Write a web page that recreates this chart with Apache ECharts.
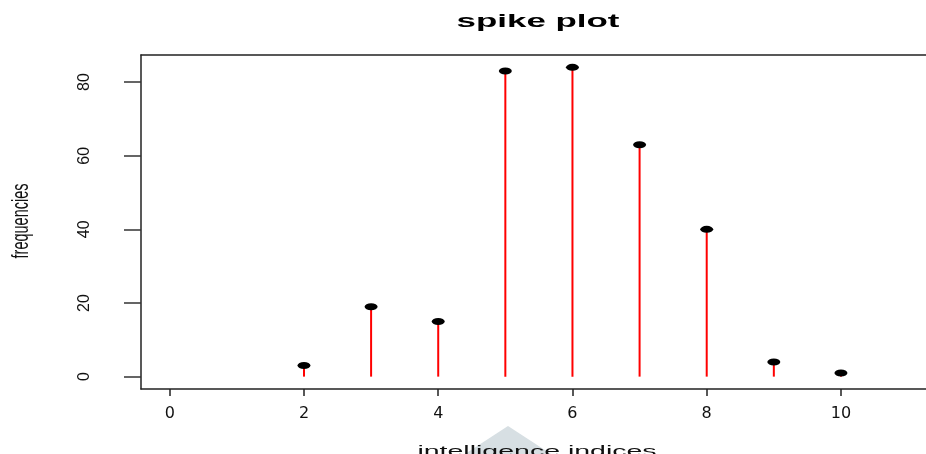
<!DOCTYPE html>
<html>
<head>
<meta charset="utf-8">
<script src="https://cdn.jsdelivr.net/npm/echarts@6/dist/echarts.min.js"></script>
<style>
html,body{margin:0;padding:0;background:#fff;overflow:hidden;}
#chart{width:926px;height:454px;}
</style>
</head>
<body>
<div id="chart"></div>
<script>
// ---- data ----
const indices = [2, 3, 4, 5, 6, 7, 8, 9, 10];
const frequencies = [3, 19, 15, 83, 84, 63, 40, 4, 1];
const xTickValues = [0, 2, 4, 6, 8, 10];
const yTickValues = [0, 20, 40, 60, 80];
const titleText = 'spike plot';
const xTitle = 'intelligence indices';
const yTitle = 'frequencies';

const pairs = indices.map((x, i) => [x, frequencies[i]]);

const chart = echarts.init(document.getElementById('chart'), null, {renderer: 'canvas'});
chart.setOption({
  animation: false,
  backgroundColor: '#ffffff',
  grid: {left: 141, right: 0, top: 55, bottom: 65, show: false},
  xAxis: [
    {
      type: 'value', min: -0.428, max: 11.267, position: 'bottom',
      splitLine: {show: false},
      axisLine: {show: true, onZero: false, lineStyle: {color: '#222', width: 1.5}},
      axisTick: {show: true, customValues: xTickValues, length: 7, inside: false,
        lineStyle: {color: '#222', width: 1.5}},
      axisLabel: {show: true, customValues: xTickValues, margin: 17,
        fontFamily: 'DejaVu Sans', fontSize: 16, color: '#111'}
    },
    {
      type: 'value', min: -0.428, max: 11.267, position: 'top',
      splitLine: {show: false},
      axisLine: {show: true, onZero: false, lineStyle: {color: '#222', width: 1.5}},
      axisTick: {show: false},
      axisLabel: {show: false}
    }
  ],
  yAxis: {
    type: 'value', min: -3.36, max: 87.36, position: 'left',
    splitLine: {show: false},
    axisLine: {show: true, onZero: false, lineStyle: {color: '#222', width: 1.5}},
    axisTick: {show: true, customValues: yTickValues, length: 17, inside: false,
      lineStyle: {color: '#333', width: 1.5}},
    axisLabel: {show: true, customValues: yTickValues, rotate: 90, margin: 48,
      fontFamily: 'Liberation Sans', fontSize: 16, color: '#111'}
  },
  graphic: [
    {type: 'polygon', z: 1, silent: true,
      shape: {points: [[465, 454], [508, 426], [551, 454]]},
      style: {fill: '#d7dfe3'}},
    {type: 'text', z: 5, x: 538, y: 22, scaleX: 1.94,
      style: {text: titleText, fontFamily: 'Liberation Sans', fontWeight: 'bold', fontSize: 18,
        fill: '#000', textAlign: 'center', textVerticalAlign: 'middle'}},
    {type: 'text', z: 5, x: 537, y: 452, scaleX: 1.9,
      style: {text: xTitle, fontFamily: 'Liberation Sans', fontSize: 15,
        fill: '#111', textAlign: 'center', textVerticalAlign: 'middle'}},
    {type: 'text', z: 5, x: 21, y: 221, rotation: Math.PI / 2, scaleY: 1.7,
      style: {text: yTitle, fontFamily: 'Liberation Sans', fontSize: 14.5,
        fill: '#111', textAlign: 'center', textVerticalAlign: 'middle'}}
  ],
  series: [
    {
      type: 'custom', z: 3,
      xAxisIndex: 0, yAxisIndex: 0,
      data: pairs,
      encode: {x: 0, y: 1},
      renderItem: function (params, api) {
        const x = api.value(0), v = api.value(1);
        const p0 = api.coord([x, 0]);
        const p1 = api.coord([x, v]);
        return {type: 'line', shape: {x1: p0[0], y1: p0[1], x2: p1[0], y2: p1[1]},
          style: {stroke: '#ff0000', lineWidth: 2}};
      }
    },
    {
      type: 'scatter', z: 4,
      xAxisIndex: 0, yAxisIndex: 0,
      data: pairs,
      symbol: 'circle',
      symbolSize: [13, 7],
      itemStyle: {color: '#000', opacity: 1}
    }
  ]
});
</script>
</body>
</html>
